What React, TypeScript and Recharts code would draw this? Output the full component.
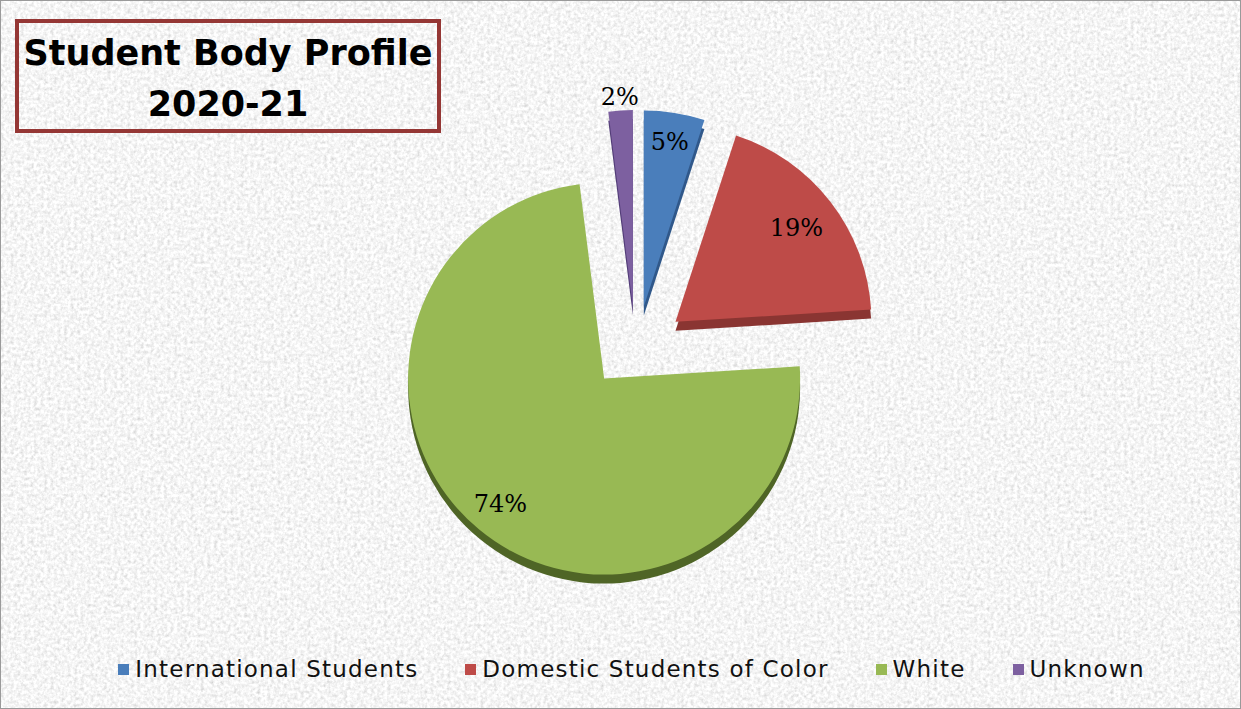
import React from 'react';
import { PieChart, Pie, Cell, Legend, Sector } from 'recharts';

const categories = ['International Students', 'Domestic Students of Color', 'White', 'Unknown'];
const shares = [5, 19, 74, 2];

const COLORS = ['#4a7ebb', '#be4b48', '#98b954', '#7d60a0'];
const SIDE_COLORS = ['#30588a', '#8a3532', '#4f6526', '#533d78'];

const data = categories.map((name, i) => ({ name, value: shares[i] }));

const RADIAN = Math.PI / 180;
// explode distance, squashed a bit vertically like the tilted 3D pie
const EXPLODE_X = 50;
const EXPLODE_Y = 41;
const DEPTH = 9;

const dir = (midAngle: number) => ({
    x: Math.cos(-midAngle * RADIAN),
    y: Math.sin(-midAngle * RADIAN),
});

function ExplodedSector(props: any) {
    const d = dir(props.midAngle);
    const idx = COLORS.indexOf(props.fill);
    const side = SIDE_COLORS[idx] ?? props.fill;
    return (
        <g transform={`translate(${d.x * EXPLODE_X},${d.y * EXPLODE_Y})`}>
            <Sector {...props} cy={props.cy + DEPTH} fill={side} stroke="none" />
            <Sector {...props} stroke="none" />
        </g>
    );
}

function renderLabel(props: any) {
    const { cx, cy, midAngle, outerRadius, percent } = props;
    let factor = 0.83;
    if (percent < 0.03) factor = 1.07;
    else if (percent < 0.1) factor = 0.85;
    else if (percent < 0.5) factor = 0.78;
    const d = dir(midAngle);
    return (
        <text
            x={cx + d.x * (EXPLODE_X + outerRadius * factor)}
            y={cy + d.y * (EXPLODE_Y + outerRadius * factor)}
            textAnchor="middle"
            dominantBaseline="central"
            fontFamily="DejaVu Serif"
            fontSize={24}
            fill="#000"
        >
            {`${Math.round(percent * 100)}%`}
        </text>
    );
}

function renderLegend(props: any) {
    const items = [...(props.payload || [])].sort(
        (a: any, b: any) => categories.indexOf(a.value) - categories.indexOf(b.value)
    );
    return (
        <div style={{ display: 'flex', justifyContent: 'center', gap: 47, paddingLeft: 20, fontFamily: 'DejaVu Sans', fontSize: 23, letterSpacing: 1.2, lineHeight: '30px', color: '#111' }}>
            {items.map((p: any) => (
                <div key={p.value} style={{ display: 'flex', alignItems: 'center' }}>
                    <span style={{ width: 11, height: 11, background: p.color, marginRight: 6, display: 'inline-block' }} />
                    <span>{p.value}</span>
                </div>
            ))}
        </div>
    );
}

export default function App() {
    return (
        <div style={{ position: 'relative', width: 1241, height: 709, overflow: 'hidden', boxSizing: 'border-box', border: '1px solid #9a9a9a' }}>
            <style>{'body{margin:0}'}</style>
            <svg width={1241} height={709} style={{ position: 'absolute', left: 0, top: 0 }}>
                <filter id="paper">
                    <feTurbulence type="fractalNoise" baseFrequency="0.3" numOctaves="3" seed="7" />
                    <feColorMatrix type="saturate" values="0" />
                    <feComponentTransfer>
                        <feFuncR type="linear" slope="0.75" intercept="0.54" />
                        <feFuncG type="linear" slope="0.75" intercept="0.54" />
                        <feFuncB type="linear" slope="0.75" intercept="0.54" />
                        <feFuncA type="linear" slope="0" intercept="1" />
                    </feComponentTransfer>
                </filter>
                <rect width={1241} height={709} filter="url(#paper)" />
            </svg>
            <div
                style={{
                    position: 'absolute',
                    left: 14,
                    top: 18,
                    width: 426,
                    height: 114,
                    boxSizing: 'border-box',
                    border: '4px solid #953735',
                    fontFamily: 'DejaVu Sans',
                    fontWeight: 700,
                    fontSize: 35,
                    lineHeight: '51px',
                    textAlign: 'center',
                    color: '#000',
                    paddingTop: 5,
                    zIndex: 2,
                }}
            >
                Student Body Profile
                <br />
                2020-21
            </div>
            <div style={{ position: 'absolute', left: 0, top: 0 }}>
                <PieChart width={1241} height={709} margin={{ top: 0, right: 0, bottom: 0, left: 0 }}>
                    <Pie
                        data={data}
                        dataKey="value"
                        nameKey="name"
                        cx={635}
                        cy={346}
                        outerRadius={196}
                        startAngle={90}
                        endAngle={-270}
                        stroke="none"
                        labelLine={false}
                        label={renderLabel}
                        shape={ExplodedSector}
                        inactiveShape={ExplodedSector}
                        activeShape={ExplodedSector}
                        isAnimationActive={false}
                    >
                        {data.map((entry, i) => (
                            <Cell key={entry.name} fill={COLORS[i]} />
                        ))}
                    </Pie>
                    <Legend
                        content={renderLegend}
                        verticalAlign="bottom"
                        wrapperStyle={{ left: 0, top: 653, width: 1241 }}
                    />
                </PieChart>
            </div>
        </div>
    );
}
